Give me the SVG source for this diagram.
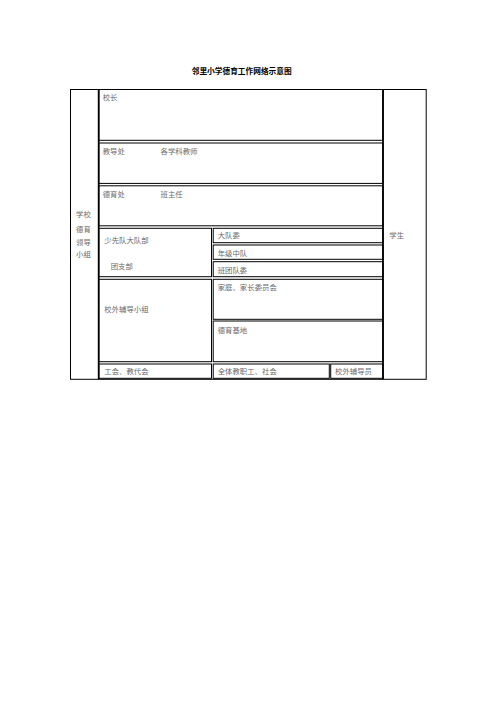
<svg xmlns="http://www.w3.org/2000/svg" width="496" height="702" viewBox="0 0 496 702">
<style>
.t{font-family:"Noto Sans CJK SC","Noto Sans",sans-serif;font-size:7.4px;fill:#6a6a6a}
.h{font-family:"Noto Sans CJK SC","Noto Sans",sans-serif;font-size:7.7px;font-weight:bold;fill:#000}
.b{fill:none;stroke:#000;stroke-width:1}
.k{stroke:#000;stroke-width:1.8}
</style>
<rect width="496" height="702" fill="#fff"/>
<text class="h" x="191.7" y="73.6">邻里小学德育工作网络示意图</text>
<g id="connectors">
<rect class="b" x="70.5" y="89.5" width="355.7" height="289.8"/>
<line class="k" x1="98.7" y1="89.5" x2="98.7" y2="379.3"/>
<line class="k" x1="383" y1="89.5" x2="383" y2="379.3"/>
</g>
<g id="n-left">
<text class="t" x="76" y="217.2">学校</text>
<text class="t" x="76" y="231.6">德育</text>
<text class="t" x="76" y="245">领导</text>
<text class="t" x="76" y="257">小组</text>
</g>
<g id="n-xiaozhang">
<rect class="b" x="98.7" y="89.5" width="284.3" height="50.8"/>
<text class="t" x="102.7" y="99.8">校长</text>
</g>
<g id="n-jiaodao">
<rect class="b" x="98.7" y="143" width="284.3" height="40.4"/>
<text class="t" x="102.7" y="154.3">教导处</text>
<text class="t" x="160.5" y="154.3">各学科教师</text>
</g>
<g id="n-deyu">
<rect class="b" x="98.7" y="185.8" width="284.3" height="40"/>
<text class="t" x="102.7" y="197">德育处</text>
<text class="t" x="160.5" y="197">班主任</text>
</g>
<g id="n-shaoxiandui">
<rect class="b" x="98.7" y="228.3" width="112.8" height="48.4"/>
<text class="t" x="104.3" y="242.6">少先队大队部</text>
<text class="t" x="110.7" y="269.2">团支部</text>
</g>
<g id="n-daduiwei">
<rect class="b" x="213.2" y="228.3" width="169.8" height="14.4"/>
<text class="t" x="217.7" y="238.2">大队委</text>
</g>
<g id="n-nianji">
<rect class="b" x="213.2" y="245" width="169.8" height="14.3"/>
<text class="t" x="217.7" y="255.7">年级中队</text>
</g>
<g id="n-bantuan">
<rect class="b" x="213.2" y="261.7" width="169.8" height="15"/>
<text class="t" x="217.7" y="273.1">班团队委</text>
</g>
<g id="n-xiaowai">
<rect class="b" x="98.7" y="279.3" width="112.8" height="82.4"/>
<text class="t" x="104.3" y="312.2">校外辅导小组</text>
</g>
<g id="n-jiating">
<rect class="b" x="213.2" y="279.3" width="169.8" height="40"/>
<text class="t" x="217.7" y="289.8">家庭、家长委员会</text>
</g>
<g id="n-jidi">
<rect class="b" x="213.2" y="321" width="169.8" height="40.7"/>
<text class="t" x="217.7" y="333.2">德育基地</text>
</g>
<g id="n-gonghui">
<rect class="b" x="98.7" y="364" width="112.8" height="14.3"/>
<text class="t" x="104.3" y="374.2">工会、教代会</text>
</g>
<g id="n-quanti">
<rect class="b" x="213.2" y="364" width="116.1" height="14.3"/>
<text class="t" x="217.7" y="374.2">全体教职工、社会</text>
</g>
<g id="n-fudaoyuan">
<rect class="b" x="330.7" y="364" width="52.3" height="14.3"/>
<text class="t" x="335" y="374.2">校外辅导员</text>
</g>
<g id="n-xuesheng">
<text class="t" x="389.3" y="238.2">学生</text>
</g>
</svg>
